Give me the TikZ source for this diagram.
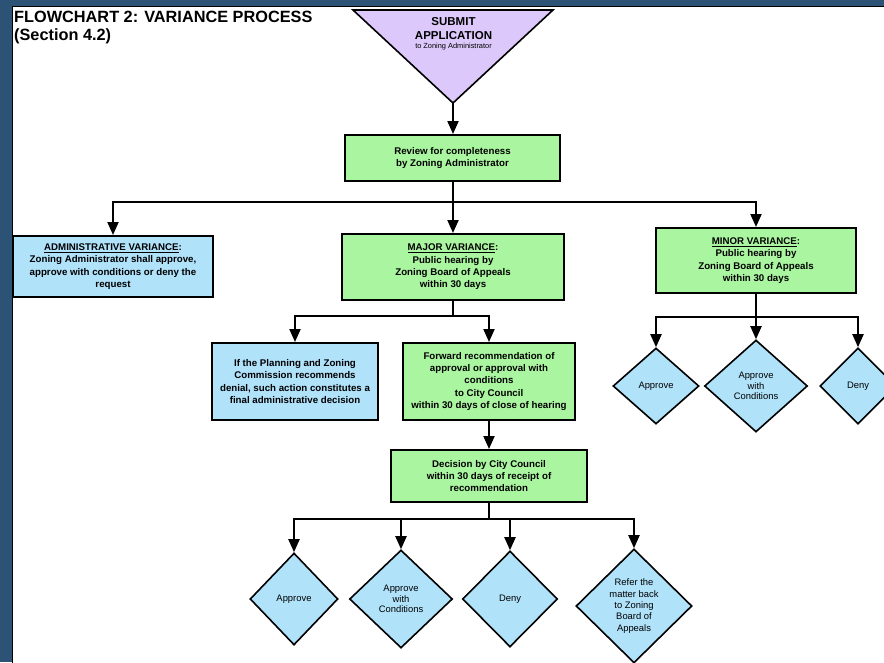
\documentclass[tikz,border=0pt]{standalone}
\usepackage{fontspec}
\setmainfont{Liberation Sans}
\usetikzlibrary{arrows.meta,shapes.geometric}
\definecolor{frame}{HTML}{2C5275}
\definecolor{grn}{HTML}{AAF5A0}
\definecolor{lblue}{HTML}{B0E2FA}
\definecolor{lav}{HTML}{DCC8FA}
\newcommand{\boxfont}{\fontsize{9.7}{12.4}\selectfont\bfseries}
\newcommand{\diafont}{\fontsize{9.4}{10.8}\selectfont}
\tikzset{
  box/.style={draw=black, line width=2pt, inner sep=0pt, align=center, font=\boxfont},
  greenbox/.style={box, fill=grn},
  bluebox/.style={box, fill=lblue},
  dia/.style={diamond, draw=black, line width=1.6pt, fill=lblue, inner sep=0pt, align=center, font=\diafont},
  conn/.style={line width=2pt},
  arr/.style={conn, -{Triangle[width=11pt,length=13pt]}},
  titletext/.style={anchor=base west, inner sep=0pt, font=\fontsize{16.3}{18}\selectfont\bfseries}
}
\begin{document}
\begin{tikzpicture}[x=1pt,y=-1pt]
\useasboundingbox (0,0) rectangle (884,662);
\clip (0,0) rectangle (884,662);
% frame
\fill[frame] (0,0) rectangle (884,662);
\filldraw[fill=white, draw=black, line width=1.2pt] (12.6,6.6) rectangle (900,700);

% title
\node[titletext] (title1) at (14,22) {FLOWCHART 2: VARIANCE PROCESS};
\node[titletext] (title2) at (14,40) {(Section 4.2)};

% submit triangle
\filldraw[fill=lav, draw=black, line width=1.6pt] (353,10) -- (553,10) -- (453,103) -- cycle;
\coordinate (submit) at (453,103);
\node[inner sep=0pt, font=\fontsize{11.5}{13}\selectfont\bfseries] (sub1) at (453.5,22) {SUBMIT};
\node[inner sep=0pt, font=\fontsize{11.5}{13}\selectfont\bfseries] (sub2) at (453.5,36) {APPLICATION};
\node[inner sep=0pt, font=\fontsize{7.4}{8}\selectfont] (sub3) at (453.5,47) {to Zoning Administrator};

% boxes
\node[greenbox, minimum width=215pt, minimum height=46pt] (review) at (452.5,158)
  {Review for completeness\\ by Zoning Administrator};
\node[bluebox, minimum width=200pt, minimum height=61pt] (admin) at (113,266.5)
  {\underline{ADMINISTRATIVE VARIANCE}:\\Zoning Administrator shall approve,\\approve with conditions or deny the\\request};
\node[greenbox, minimum width=222pt, minimum height=66pt] (major) at (453,267)
  {\underline{MAJOR VARIANCE}:\\Public hearing by\\Zoning Board of Appeals\\within 30 days};
\node[greenbox, minimum width=200pt, minimum height=65pt] (minor) at (756,260.5)
  {\underline{MINOR VARIANCE}:\\Public hearing by\\Zoning Board of Appeals\\within 30 days};
\node[bluebox, minimum width=166pt, minimum height=77pt] (denial) at (295,381.5)
  {If the Planning and Zoning\\Commission recommends\\denial, such action constitutes a\\final administrative decision};
\node[greenbox, minimum width=172pt, minimum height=77pt] (forward) at (489,381.5)
  {Forward recommendation of\\approval or approval with\\conditions\\to City Council\\within 30 days of close of hearing};
\node[greenbox, minimum width=196pt, minimum height=52pt] (decision) at (489,476)
  {Decision by City Council\\within 30 days of receipt of\\recommendation};

% minor diamonds
\node[dia, minimum width=86pt, minimum height=76pt] (mapp) at (656,386) {Approve};
\node[dia, minimum width=103pt, minimum height=92pt] (mcond) at (756,386) {Approve\\with\\Conditions};
\node[dia, minimum width=76pt, minimum height=76pt] (mdeny) at (858,386) {Deny};

% council diamonds
\node[dia, minimum width=88pt, minimum height=92pt] (capp) at (294,599) {Approve};
\node[dia, minimum width=103pt, minimum height=98pt] (ccond) at (401,599) {Approve\\with\\Conditions};
\node[dia, minimum width=95pt, minimum height=96pt] (cdeny) at (510,599) {Deny};
\node[dia, minimum width=116pt, minimum height=114pt, font=\fontsize{9.4}{11.3}\selectfont] (crefer) at (634,606)
  {Refer the\\matter back\\to Zoning\\Board of\\Appeals};

% junctions
\coordinate (j1) at (453,202);
\coordinate (j2) at (453,316);
\coordinate (j3) at (489,519);
\coordinate (j4) at (756,317);

% connectors
\draw[arr] (submit) -- (review.north -| submit);
\draw[conn] (review.south -| j1) -- (j1);
\draw[arr] (j1) -| (admin.north);
\draw[arr] (j1) -- (major.north -| j1);
\draw[arr] (j1) -| (minor.north);

\draw[conn] (major.south -| j2) -- (j2);
\draw[arr] (j2) -| (denial.north);
\draw[arr] (j2) -| (forward.north);
\draw[arr] (forward.south) -- (decision.north -| forward.south);

\draw[conn] (decision.south -| j3) -- (j3);
\draw[arr] (j3) -| (capp.north);
\draw[arr] (j3) -| (ccond.north);
\draw[arr] (j3) -| (cdeny.north);
\draw[arr] (j3) -| (crefer.north);

\draw[conn] (minor.south -| j4) -- (j4);
\draw[arr] (j4) -| (mapp.north);
\draw[arr] (j4) -- (mcond.north);
\draw[arr] (j4) -| (mdeny.north);
\end{tikzpicture}
\end{document}
